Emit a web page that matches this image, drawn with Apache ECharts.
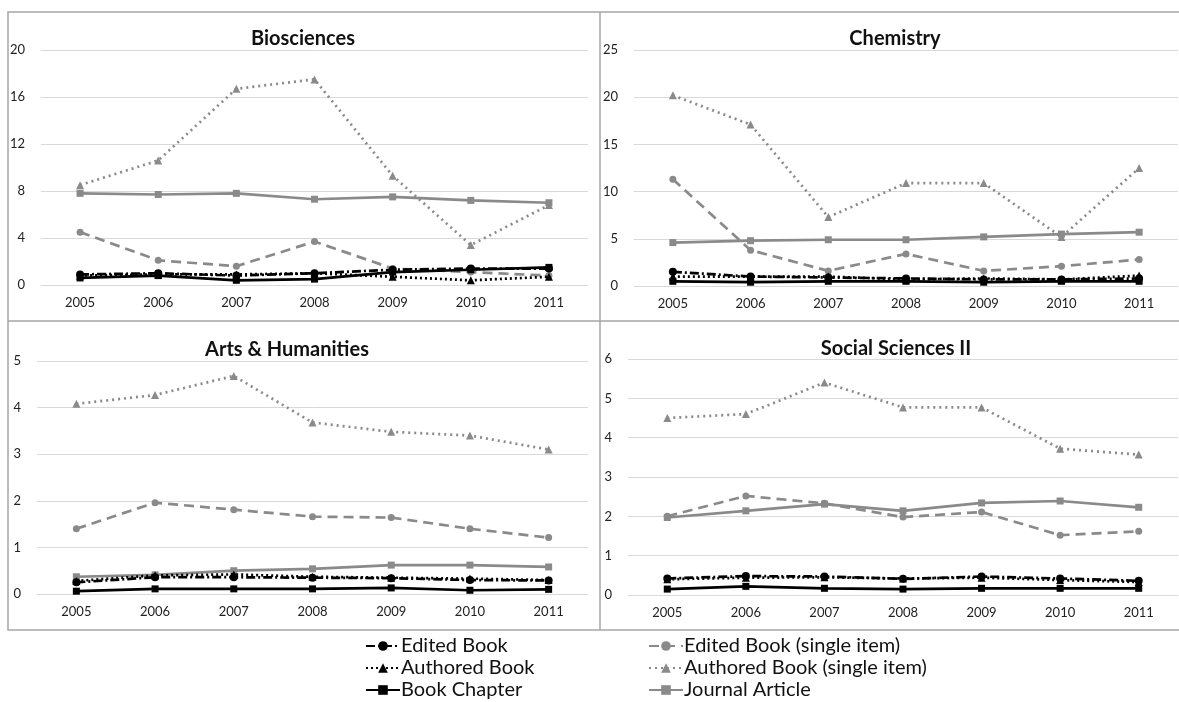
<!DOCTYPE html>
<html>
<head>
<meta charset="utf-8">
<script src="https://cdn.jsdelivr.net/npm/echarts@6/dist/echarts.min.js"></script>
<style>html,body{margin:0;padding:0;background:#fff}#c{width:1179px;height:702px}</style>
</head>
<body>
<div id="c"></div>
<script>
const years = ['2005','2006','2007','2008','2009','2010','2011'];
const panelTitles = ['Biosciences','Chemistry','Arts & Humanities','Social Sciences II'];
const seriesNames = ['Edited Book','Authored Book','Book Chapter','Edited Book (single item)','Authored Book (single item)','Journal Article'];

// Biosciences
const bioEdited = [0.9, 1.0, 0.8, 1.0, 1.3, 1.4, 1.4];
const bioAuthored = [0.8, 0.9, 0.9, 1.0, 0.7, 0.4, 0.7];
const bioChapter = [0.6, 0.8, 0.4, 0.5, 1.1, 1.3, 1.5];
const bioEditedSingle = [4.5, 2.1, 1.6, 3.7, 1.4, 1.1, 0.8];
const bioAuthoredSingle = [8.5, 10.6, 16.7, 17.5, 9.3, 3.4, 6.8];
const bioJournal = [7.8, 7.7, 7.8, 7.3, 7.5, 7.2, 7.0];

// Chemistry
const chemEdited = [1.5, 1.0, 0.9, 0.8, 0.7, 0.7, 0.8];
const chemAuthored = [1.0, 1.0, 1.0, 0.7, 0.8, 0.7, 1.1];
const chemChapter = [0.5, 0.4, 0.5, 0.5, 0.4, 0.5, 0.5];
const chemEditedSingle = [11.3, 3.8, 1.6, 3.4, 1.6, 2.1, 2.8];
const chemAuthoredSingle = [20.2, 17.1, 7.3, 10.9, 10.9, 5.2, 12.5];
const chemJournal = [4.6, 4.8, 4.9, 4.9, 5.2, 5.5, 5.7];

// Arts & Humanities
const artsEdited = [0.25, 0.36, 0.36, 0.35, 0.34, 0.30, 0.29];
const artsAuthored = [0.28, 0.40, 0.42, 0.37, 0.35, 0.33, 0.30];
const artsChapter = [0.06, 0.11, 0.11, 0.11, 0.13, 0.08, 0.10];
const artsEditedSingle = [1.40, 1.96, 1.81, 1.66, 1.64, 1.40, 1.21];
const artsAuthoredSingle = [4.08, 4.27, 4.68, 3.68, 3.48, 3.40, 3.10];
const artsJournal = [0.37, 0.41, 0.50, 0.54, 0.62, 0.62, 0.58];

// Social Sciences II
const socEdited = [0.42, 0.48, 0.47, 0.41, 0.47, 0.42, 0.36];
const socAuthored = [0.40, 0.44, 0.45, 0.42, 0.44, 0.38, 0.33];
const socChapter = [0.15, 0.22, 0.17, 0.15, 0.17, 0.17, 0.17];
const socEditedSingle = [2.00, 2.52, 2.33, 1.98, 2.11, 1.52, 1.62];
const socAuthoredSingle = [4.50, 4.60, 5.40, 4.77, 4.77, 3.72, 3.57];
const socJournal = [1.97, 2.14, 2.31, 2.14, 2.34, 2.39, 2.23];

const yMax = [20, 25, 5, 6];
const yInterval = [4, 5, 1, 1];

const panelData = [
  [bioEdited, bioAuthored, bioChapter, bioEditedSingle, bioAuthoredSingle, bioJournal],
  [chemEdited, chemAuthored, chemChapter, chemEditedSingle, chemAuthoredSingle, chemJournal],
  [artsEdited, artsAuthored, artsChapter, artsEditedSingle, artsAuthoredSingle, artsJournal],
  [socEdited, socAuthored, socChapter, socEditedSingle, socAuthoredSingle, socJournal]
];

const FONT = 'Lato, "Open Sans", sans-serif';
const BLACK = '#000000';
const GRAY = '#8a8a8a';

const styles = [
  {color: BLACK, type: [9,3,2,3], symbol: 'circle', size: 8},
  {color: BLACK, type: [2,3], symbol: 'triangle', size: 8},
  {color: BLACK, type: 'solid', symbol: 'rect', size: 7},
  {color: GRAY, type: [10,6], symbol: 'circle', size: 7},
  {color: GRAY, type: [2,4], symbol: 'triangle', size: 8},
  {color: GRAY, type: 'solid', symbol: 'rect', size: 7}
];

const grids = [
  {left: 41, right: 591, top: 50, bottom: 417},
  {left: 634, right: 1, top: 50, bottom: 416},
  {left: 37, right: 591, top: 361, bottom: 108},
  {left: 628, right: 1, top: 359, bottom: 107}
];

const titlePos = [
  {left: 303, top: 39},
  {left: 895, top: 39},
  {left: 287, top: 350},
  {left: 896, top: 349}
];

const xAxes = grids.map((g, i) => ({
  type: 'category', gridIndex: i, data: years, boundaryGap: true,
  axisLine: {show: true, lineStyle: {color: '#d9d9d9', width: 1}},
  axisTick: {show: false},
  axisLabel: {color: '#222', fontFamily: FONT, fontSize: 13, margin: 11}
}));

const yAxes = grids.map((g, i) => ({
  type: 'value', gridIndex: i, min: 0, max: yMax[i], interval: yInterval[i],
  axisLine: {show: false}, axisTick: {show: false},
  splitLine: {lineStyle: {color: '#d9d9d9', width: 1}},
  axisLabel: {color: '#222', fontFamily: FONT, fontSize: 13, margin: 16}
}));

const series = [];
panelData.forEach((arr, p) => {
  arr.forEach((vals, k) => {
    const s = styles[k];
    series.push({
      name: seriesNames[k], type: 'line', xAxisIndex: p, yAxisIndex: p,
      data: vals, symbol: s.symbol, symbolSize: s.size, showSymbol: true,
      lineStyle: {color: s.color, width: 2.7, type: s.type},
      itemStyle: {color: s.color},
      z: k < 3 ? 3 : 2,
      animation: false
    });
  });
});

const legendCommon = {
  orient: 'vertical', itemWidth: 34, itemHeight: 12, itemGap: 2, padding: 0,
  height: 120,
  textStyle: {fontFamily: FONT, fontSize: 20, lineHeight: 20, color: '#111', padding: [0,0,0,-4]}
};

const option = {
  backgroundColor: '#fff',
  animation: false,
  title: panelTitles.map((t, i) => ({
    text: t, left: titlePos[i].left, top: titlePos[i].top,
    textAlign: 'center', textVerticalAlign: 'middle', padding: 0,
    textStyle: {fontFamily: FONT, fontSize: 20, fontWeight: 'bold', color: '#111'}
  })),
  grid: grids,
  xAxis: xAxes,
  yAxis: yAxes,
  legend: [
    Object.assign({left: 365, top: 636, data: seriesNames.slice(0,3)}, legendCommon),
    Object.assign({left: 648, top: 636, data: seriesNames.slice(3)}, legendCommon)
  ],
  graphic: [
    {type: 'rect', shape: {x: 8, y: 12, width: 1175, height: 618}, style: {fill: 'none', stroke: '#a6a6a6', lineWidth: 1.5}, silent: true},
    {type: 'line', shape: {x1: 600, y1: 12, x2: 600, y2: 630}, style: {stroke: '#a6a6a6', lineWidth: 1.5}, silent: true},
    {type: 'line', shape: {x1: 8, y1: 321, x2: 1179, y2: 321}, style: {stroke: '#a6a6a6', lineWidth: 1.5}, silent: true}
  ],
  series: series
};

const chart = echarts.init(document.getElementById('c'), null, {renderer: 'canvas'});
chart.setOption(option);
</script>
</body>
</html>
